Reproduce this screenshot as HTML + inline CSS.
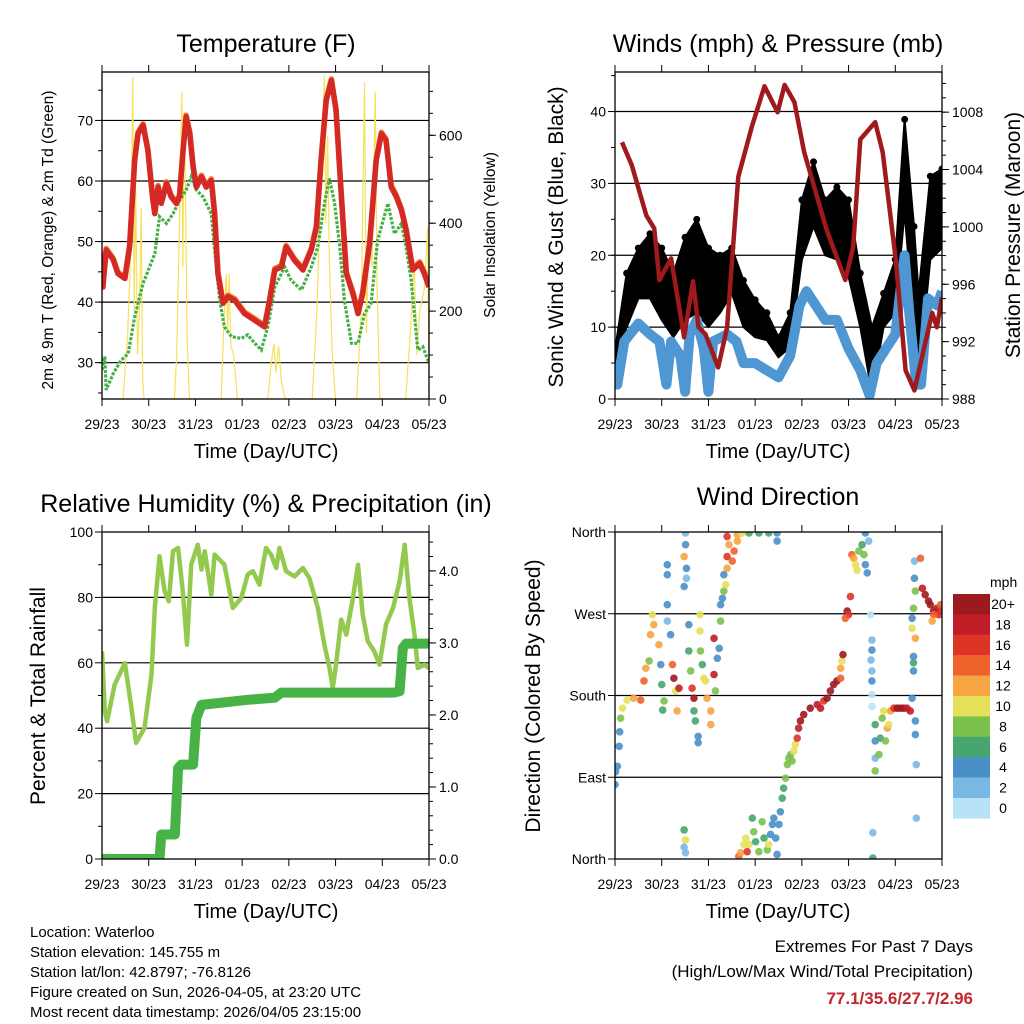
<!DOCTYPE html>
<html><head><meta charset="utf-8">
<style>
html,body{margin:0;padding:0;background:#fff;}
svg{display:block;font-family:"Liberation Sans",Arial,sans-serif;}
</style></head>
<body>
<svg id="fig" width="1024" height="1024" viewBox="0 0 1024 1024">
<rect x="0" y="0" width="1024" height="1024" fill="#fff"/>
<text x="266" y="52" font-size="25" text-anchor="middle">Temperature (F)</text>
<text x="778" y="52" font-size="25" text-anchor="middle">Winds (mph) &amp; Pressure (mb)</text>
<text x="266" y="512" font-size="25" text-anchor="middle">Relative Humidity (%) &amp; Precipitation (in)</text>
<text x="778" y="505" font-size="25" text-anchor="middle">Wind Direction</text>

<text x="266" y="458" font-size="20" text-anchor="middle">Time (Day/UTC)</text>
<text x="778" y="458" font-size="20" text-anchor="middle">Time (Day/UTC)</text>
<text x="266" y="918" font-size="20" text-anchor="middle">Time (Day/UTC)</text>
<text x="778" y="918" font-size="20" text-anchor="middle">Time (Day/UTC)</text>

<text transform="translate(53,240) rotate(-90)" font-size="15.5" text-anchor="middle">2m &amp; 9m T (Red, Orange) &amp; 2m Td (Green)</text>
<text transform="translate(495,235) rotate(-90)" font-size="15.5" text-anchor="middle">Solar Insolation (Yellow)</text>
<text transform="translate(563,237) rotate(-90)" font-size="21" text-anchor="middle">Sonic Wind &amp; Gust (Blue, Black)</text>
<text transform="translate(1020,235) rotate(-90)" font-size="21" text-anchor="middle">Station Pressure (Maroon)</text>
<text transform="translate(45,696) rotate(-90)" font-size="21" text-anchor="middle">Percent &amp; Total Rainfall</text>
<text transform="translate(540,696) rotate(-90)" font-size="21" text-anchor="middle">Direction (Colored By Speed)</text>

<g font-size="15">
<text x="30" y="937">Location: Waterloo</text>
<text x="30" y="957">Station elevation: 145.755 m</text>
<text x="30" y="977">Station lat/lon: 42.8797; -76.8126</text>
<text x="30" y="997">Figure created on Sun, 2026-04-05, at 23:20 UTC</text>
<text x="30" y="1017">Most recent data timestamp: 2026/04/05 23:15:00</text>
</g>
<g>
<text x="973" y="952" font-size="17" text-anchor="end">Extremes For Past 7 Days</text>
<text x="973" y="977" font-size="17" text-anchor="end">(High/Low/Max Wind/Total Precipitation)</text>
<text x="973" y="1004" font-size="17" font-weight="bold" fill="#c1272d" text-anchor="end">77.1/35.6/27.7/2.96</text>
</g>
<g id="layer"></g>
</svg>
<script>
// ---------- DATA ----------
const dayLabels = ["29/23","30/23","31/23","01/23","02/23","03/23","04/23","05/23"];
const tempDays = [0,0.02,0.09,0.24,0.34,0.49,0.59,0.7,0.77,0.88,0.98,1.09,1.13,1.2,1.27,1.38,1.48,1.59,1.66,1.73,1.8,1.88,1.95,2.02,2.13,2.23,2.34,2.41,2.48,2.59,2.7,2.84,3.05,3.27,3.48,3.59,3.7,3.84,3.94,4.12,4.3,4.48,4.59,4.69,4.8,4.91,5.01,5.12,5.23,5.37,5.48,5.58,5.73,5.87,5.98,6.08,6.19,6.3,6.41,6.51,6.65,6.8,6.9,7.0];
const tempVals = [48.0,42.5,48.6,47.0,44.7,43.9,49.1,63.4,67.8,69.2,65.1,56.8,54.6,59.0,56.3,59.6,57.4,56.3,57.4,64.5,70.6,67.8,62.3,59.0,60.7,59.0,60.1,54.6,44.7,39.8,40.9,40.3,38.1,37.0,35.9,40.3,45.3,45.8,49.1,46.9,45.3,48.6,52.4,63.4,73.3,76.6,71.7,57.9,44.7,41.4,38.1,41.4,49.7,63.4,67.8,66.7,59.0,57.4,55.2,51.9,45.3,46.4,44.7,42.5];
const dewDays = [0,0.06,0.09,0.24,0.41,0.56,0.7,0.88,1.02,1.13,1.23,1.38,1.52,1.66,1.8,1.91,2.02,2.16,2.34,2.41,2.52,2.62,2.77,2.98,3.12,3.27,3.41,3.55,3.7,3.91,4.05,4.27,4.48,4.62,4.76,4.87,4.98,5.09,5.19,5.34,5.48,5.62,5.76,5.9,6.12,6.26,6.41,6.51,6.62,6.76,6.87,7.0];
const dewVals = [28.8,31.0,25.5,28.2,30.4,31.5,37.6,43.1,45.8,48.0,54.1,53.0,54.6,56.8,58.5,60.7,58.5,57.4,54.6,48.6,40.3,35.9,34.3,34.0,34.6,33.2,32.1,35.9,42.5,45.8,43.6,42.0,45.8,49.1,56.3,60.4,56.3,49.1,40.3,33.2,33.2,38.1,39.8,50.2,56.3,51.3,53.0,49.1,43.6,32.1,32.6,29.9];
const solarDays = [0,0.45,0.55,0.62,0.66,0.69,0.72,0.76,0.8,0.84,0.87,0.9,1.55,1.6,1.66,1.71,1.73,1.76,1.79,1.82,1.87,2.55,2.6,2.66,2.69,2.72,2.76,2.82,2.9,3.55,3.62,3.68,3.72,3.78,3.84,3.92,4.5,4.6,4.7,4.76,4.79,4.83,4.87,4.93,5.0,5.45,5.55,5.62,5.66,5.72,5.78,5.85,5.89,5.95,6.5,6.6,6.68,6.74,6.8,6.9,6.97,7.0];
const solarVals = [0,0,150,350,732,200,500,100,200,435,50,0,0,100,400,698,300,653,450,150,0,0,150,284,150,284,120,100,0,0,80,126,60,120,40,0,0,200,550,736,400,600,300,100,0,0,200,721,150,400,300,698,250,0,0,150,314,100,200,250,390,50];
const gustDays = [0,0.25,0.5,0.75,1.0,1.25,1.5,1.75,2.0,2.25,2.5,2.75,3.0,3.25,3.5,3.75,4.0,4.25,4.5,4.75,5.0,5.25,5.5,5.75,6.0,6.2,6.4,6.5,6.75,7.0];
const gustHi = [6.8,17.5,21,23,21,17.5,22.5,25,21,20,21,16.5,13.8,12,8.6,12,27.7,33,27.7,29.5,27.7,17.5,10,14.7,19.4,38.9,24,14.7,31,32];
const gustLo = [5,10,14,14,11,8.6,11,12,10,12,14.7,10,8.6,8.2,5.8,7.2,19.4,24,20,19.4,17,10,0.8,10,12,26,10,3,19.4,21];
const windDays = [0,0.05,0.2,0.5,0.75,0.95,1.1,1.2,1.4,1.5,1.6,1.75,1.9,2.0,2.1,2.4,2.6,2.75,3.0,3.25,3.5,3.75,3.95,4.1,4.3,4.5,4.75,5.0,5.25,5.45,5.6,5.8,6.0,6.2,6.3,6.45,6.55,6.7,6.9,7.0];
const windVals = [4,2,8,10.5,9,8,2,8,6,1,9,11,7,1,8,9,8,5,5,4,3,6,13,15,13,11,11,7,4,0.5,5,7,9,20,12,2,2,14,13,15];
const presDays = [0.15,0.36,0.67,0.84,0.95,1.2,1.48,1.67,1.79,1.94,2.21,2.4,2.64,2.93,3.2,3.48,3.63,3.84,4.05,4.53,4.93,5.1,5.25,5.57,5.73,6.01,6.22,6.41,6.64,6.79,6.89,7.0];
const presVals = [1005.9,1004.3,1000.8,999.9,996.3,997.8,992.3,996.2,993.0,992.5,990.2,993.0,1003.5,1007.0,1009.8,1008.0,1009.9,1008.7,1005.2,999.8,996.3,998.6,1006.1,1007.3,1005.2,997.7,990.0,988.6,991.9,994.0,993.0,995.1];
const rhDays = [0,0.06,0.11,0.27,0.49,0.63,0.73,0.91,1.06,1.13,1.23,1.34,1.43,1.52,1.63,1.73,1.82,1.91,2.05,2.13,2.2,2.34,2.41,2.62,2.8,2.98,3.12,3.23,3.37,3.51,3.62,3.73,3.8,3.94,4.12,4.3,4.44,4.62,4.76,4.87,4.94,5.01,5.12,5.23,5.37,5.48,5.58,5.69,5.83,5.94,6.08,6.23,6.37,6.48,6.58,6.69,6.76,6.9,7.0];
const rhVals = [63.5,45.2,42.1,53.3,59.9,46.2,35.5,40.1,56.4,76.8,92.6,81.9,78.8,94.1,95.1,81.9,65.5,90.0,96.1,88.5,94.1,80.8,93.1,90.0,76.8,79.8,87.0,88.0,83.9,95.1,93.1,89.0,95.1,88.0,86.4,89.0,85.9,76.8,65.5,58.4,52.3,59.4,73.2,68.6,79.8,90.0,74.7,66.6,63.5,59.4,71.7,76.8,84.9,96.1,79.8,68.6,58.4,59.4,58.4];
const rainDays = [0,1.23,1.27,1.56,1.63,1.7,1.95,1.98,2.02,2.13,3.12,3.7,3.84,6.26,6.37,6.44,6.51,7.0];
const rainVals = [0,0,0.34,0.34,1.26,1.31,1.31,1.59,1.96,2.14,2.21,2.24,2.31,2.31,2.33,2.93,2.99,2.99];
const dirDays = [0,0.01,0.05,0.09,0.1,0.12,0.16,0.26,0.4,0.55,0.62,0.66,0.73,0.76,0.83,0.8,0.94,0.98,1.0,1.05,1.02,1.12,1.12,1.12,1.12,1.19,1.23,1.26,1.3,1.33,1.37,1.48,1.51,1.51,1.53,1.53,1.48,1.48,1.51,1.48,1.51,1.58,1.58,1.62,1.65,1.69,1.69,1.72,1.78,1.78,1.82,1.82,1.83,1.87,1.9,1.94,1.97,2.05,2.05,2.12,2.12,2.15,2.19,2.23,2.26,2.26,2.3,2.33,2.33,2.37,2.4,2.4,2.44,2.4,2.51,2.55,2.62,2.62,2.72,2.87,3.08,3.29,3.47,3.47,2.65,2.69,2.76,2.8,2.83,2.87,2.94,2.97,3.01,3.08,3.15,3.19,3.26,3.29,3.33,3.37,3.4,3.44,3.47,3.51,3.54,3.58,3.61,3.65,3.69,3.72,3.76,3.79,3.83,3.86,3.9,3.93,3.97,4.04,4.18,4.33,4.4,4.47,4.54,4.61,4.68,4.75,4.83,4.83,4.86,4.88,4.97,5.0,4.93,5.04,5.07,5.11,5.15,5.18,5.22,5.29,5.33,5.36,5.4,5.36,5.43,5.47,5.5,5.5,5.48,5.5,5.5,5.5,5.5,5.52,5.52,5.57,5.57,5.57,5.57,5.65,5.68,5.72,5.75,5.79,5.83,5.86,5.9,5.97,6.04,6.11,6.18,6.25,6.32,6.36,6.43,6.43,6.45,6.45,6.39,6.39,6.39,6.43,6.36,6.36,6.39,6.43,6.41,6.41,6.54,6.58,6.64,6.71,6.75,6.82,6.89,6.93,6.97,7.0,6.82,6.79];
const dirDegs = [82,96,102,124,140,155,166,175,177,175,196,210,218,247,258,269,236,214,192,174,164,324,313,280,262,247,214,199,185,163,188,333,346,359,320,309,300,32,21,13,7,258,229,207,188,177,163,152,135,128,269,251,229,214,199,196,177,163,148,203,243,185,221,232,262,280,287,295,313,302,320,333,346,355,328,339,350,357,359,359,359,359,359,350,3,7,16,23,8,16,45,30,19,8,41,23,10,16,27,38,45,23,5,38,52,67,78,89,104,111,115,108,119,126,133,144,152,159,166,170,166,174,177,185,192,196,199,210,218,225,273,269,265,289,335,331,324,318,339,346,335,324,315,359,350,269,241,230,219,207,196,181,168,29,1,148,130,111,97,115,133,155,163,130,144,148,163,166,166,166,166,166,163,177,152,137,104,45,207,216,223,243,254,265,276,295,309,328,331,298,291,284,280,273,276,269,280,273,269,262,265];
const dirSpds = [4,4,4,4,4,7,10,10,12,14,14,12,8,12,12,10,12,4,6,8,6,4,4,4,2,4,14,20,10,12,18,12,4,2,4,2,4,6,10,2,2,4,6,8,16,20,6,6,4,4,10,10,8,6,10,10,12,12,12,18,18,8,4,4,8,4,4,8,4,10,12,16,12,16,14,14,12,12,10,6,6,6,4,4,14,12,10,10,16,10,6,8,6,8,8,6,8,10,4,4,4,4,4,4,4,6,6,8,8,8,8,8,10,10,16,18,20,20,20,18,18,16,20,20,20,20,14,12,10,20,20,16,14,16,14,12,10,10,8,6,8,4,4,4,2,0,2,4,2,2,4,0,0,2,6,6,4,2,8,8,6,8,10,8,12,10,12,16,20,20,20,18,18,4,4,4,2,2,4,6,4,12,10,4,8,8,4,2,14,18,20,20,20,20,18,16,14,16,14,12];
const cbLabels = ["20+","18","16","14","12","10","8","6","4","2","0"];
const cbColors = ["#9c1a1e","#c11d27","#dc3528","#f0622b","#f7a443","#e5e05a","#7cc04c","#47a570","#4a8fc8","#7ab8e4","#b8e2f6"];

// ---------- DRAW ----------
const NS = "http://www.w3.org/2000/svg";
const layer = document.getElementById('layer');
function mk(tag, attrs, parent){
  const e = document.createElementNS(NS, tag);
  for (const k in attrs) e.setAttribute(k, attrs[k]);
  (parent||layer).appendChild(e); return e;
}
function txt(x,y,s,size,anchor,parent){
  const t = mk('text',{x:x,y:y,'font-size':size,'text-anchor':anchor},parent);
  t.textContent = s; return t;
}
function scale(d0,d1,r0,r1){ return v => r0 + (v-d0)/(d1-d0)*(r1-r0); }
function pathOf(xs, ys, fx, fy){
  let s=''; for (let i=0;i<xs.length;i++) s += (i?'L':'M') + fx(xs[i]).toFixed(1)+','+fy(ys[i]).toFixed(1);
  return s;
}

function panel(P){
  const g = mk('g',{});
  
  
  const fx = scale(0,7,P.x0,P.x1);
  P.grid.forEach(v=>{
    const y = P.fy(v);
    const l = mk('line',{x1:P.x0,x2:P.x1,y1:y,y2:y,stroke:'#000','stroke-width':1.2},g);
    
    
  });
  dayLabels.forEach((lab,i)=>{
    const x = fx(i);
    mk('line',{x1:x,x2:x,y1:P.y0,y2:P.y0-7,stroke:'#000','stroke-width':1},g);
    mk('line',{x1:x,x2:x,y1:P.y1,y2:P.y1+7,stroke:'#000','stroke-width':1},g);
    const t = txt(x,P.y1+30,lab,14,'middle',g);
    
    
  });
  P.lMinor.forEach(v=>{ const y=P.fy(v); mk('line',{x1:P.x0,x2:P.x0-4,y1:y,y2:y,stroke:'#000','stroke-width':1},g); });
  P.lMajor.forEach((v,i)=>{ const y=P.fy(v); mk('line',{x1:P.x0,x2:P.x0-7,y1:y,y2:y,stroke:'#000','stroke-width':1},g);
    const t = txt(P.x0-9,y+5,P.lLabels[i],14,'end',g);
    
    
  });
  if (P.fr){
    P.rMinor.forEach(v=>{ const y=P.fr(v); mk('line',{x1:P.x1,x2:P.x1+4,y1:y,y2:y,stroke:'#000','stroke-width':1},g); });
    P.rMajor.forEach((v,i)=>{ const y=P.fr(v); mk('line',{x1:P.x1,x2:P.x1+7,y1:y,y2:y,stroke:'#000','stroke-width':1},g);
      const t = txt(P.x1+10,y+5,P.rLabels[i],14,'start',g);
      
      
    });
  }
  const clip = mk('clipPath',{id:'clip-'+P.name},g);
  mk('rect',{x:P.x0,y:P.y0,width:P.x1-P.x0,height:P.y1-P.y0},clip);
  const plot = mk('g',{'clip-path':'url(#clip-'+P.name+')'},g);
  P.draw(plot, fx);
  const fr = mk('rect',{x:P.x0,y:P.y0,width:P.x1-P.x0,height:P.y1-P.y0,fill:'none',stroke:'#000','stroke-width':1.3},g);
  
  
}
function range(a,b,s){ const r=[]; for(let v=a; v<=b+1e-9; v+=s) r.push(+v.toFixed(4)); return r; }

panel({name:'temperature-panel', x0:102, x1:429, y0:72, y1:399,
  fy: scale(24,78,399,72), grid:[30,40,50,60,70],
  lMajor:[30,40,50,60,70], lLabels:["30","40","50","60","70"], lMinor:range(25,75,5),
  fr: scale(0,744,399,72), rMajor:[0,200,400,600], rLabels:["0","200","400","600"], rMinor:range(0,700,50),
  draw:(g,fx)=>{
    const fy = scale(24,78,399,72), fs = scale(0,744,399,72);
    let p = mk('path',{d:pathOf(solarDays,solarVals,fx,fs),fill:'none',stroke:'#f7e05a','stroke-width':1.2},g);
    
    
    p = mk('path',{d:pathOf(dewDays,dewVals,fx,fy),fill:'none',stroke:'#46b046','stroke-width':3.2,'stroke-dasharray':'3 1.5'},g);
    
    
    p = mk('path',{d:pathOf(tempDays,tempVals,fx,v=>fy(v)-1.5),fill:'none',stroke:'#f07a2c','stroke-width':5.5,'stroke-linejoin':'round'},g);
    
    
    p = mk('path',{d:pathOf(tempDays,tempVals,fx,fy),fill:'none',stroke:'#d42a26','stroke-width':5.5,'stroke-linejoin':'round'},g);
    
    
  }});

panel({name:'winds-panel', x0:615, x1:942, y0:72, y1:399,
  fy: scale(0,45.5,399,72), grid:[10,20,30,40],
  lMajor:[0,10,20,30,40], lLabels:["0","10","20","30","40"], lMinor:range(5,45,5),
  fr: scale(988,1010.8,399,72), rMajor:[988,992,996,1000,1004,1008], rLabels:["988","992","996","1000","1004","1008"], rMinor:range(989,1010,1),
  draw:(g,fx)=>{
    const fy = scale(0,45.5,399,72), fp = scale(988,1010.8,399,72);
    let d = pathOf(gustDays,gustHi,fx,fy);
    for (let i=gustDays.length-1;i>=0;i--) d += 'L'+fx(gustDays[i]).toFixed(1)+','+fy(gustLo[i]).toFixed(1);
    let p = mk('path',{d:d+'Z',fill:'#000',stroke:'#000','stroke-width':2,'stroke-linejoin':'round'},g);
    
    
    gustDays.forEach((dd,i)=>{
      const c = mk('circle',{cx:fx(dd),cy:fy(gustHi[i]),r:3.5,fill:'#000'},g);
      
      
    });
    p = mk('path',{d:pathOf(windDays,windVals,fx,fy),fill:'none',stroke:'#4f97d2','stroke-width':10,'stroke-linejoin':'round'},g);
    
    
    p = mk('path',{d:pathOf(presDays,presVals,fx,fp),fill:'none',stroke:'#a0191d','stroke-width':4.5,'stroke-linejoin':'round'},g);
    
    
  }});

panel({name:'humidity-panel', x0:102, x1:429, y0:532, y1:859,
  fy: scale(0,100,859,532), grid:[20,40,60,80],
  lMajor:[0,20,40,60,80,100], lLabels:["0","20","40","60","80","100"], lMinor:range(10,90,20),
  fr: scale(0,4.54,859,532), rMajor:[0,1,2,3,4], rLabels:["0.0","1.0","2.0","3.0","4.0"], rMinor:range(0.2,4.4,0.2),
  draw:(g,fx)=>{
    const fy = scale(0,100,859,532), fr = scale(0,4.54,859,532);
    let p = mk('path',{d:pathOf(rhDays,rhVals,fx,fy),fill:'none',stroke:'#94c94f','stroke-width':4.5,'stroke-linejoin':'round'},g);
    
    
    p = mk('path',{d:pathOf(rainDays,rainVals,fx,fr),fill:'none',stroke:'#47b347','stroke-width':10,'stroke-linejoin':'round','stroke-linecap':'round'},g);
    
    
  }});

panel({name:'direction-panel', x0:615, x1:942, y0:532, y1:859,
  fy: scale(0,360,859,532), grid:[90,180,270],
  lMajor:[0,90,180,270,360], lLabels:["North","East","South","West","North"], lMinor:[],
  draw:(g,fx)=>{
    const fy = scale(0,360,859,532);
    dirDays.forEach((dd,i)=>{
      const idx = Math.max(0, 10 - Math.round(Math.min(dirSpds[i],20)/2));
      const c = mk('circle',{cx:fx(dd),cy:fy(dirDegs[i]),r:3.8,fill:cbColors[idx],'fill-opacity':0.9},g);
      
      
    });
  }});

const cb = mk('g',{});


const cbT = txt(990,587,"mph",14,'start',cb);


cbLabels.forEach((lab,i)=>{
  const y = 594 + i*20.4;
  const r = mk('rect',{x:953,y:y,width:37,height:20.6,fill:cbColors[i]},cb);
  
  
  const t = txt(1003,y+15,lab,14,'middle',cb);
  
  
});
</script>
</body></html>
